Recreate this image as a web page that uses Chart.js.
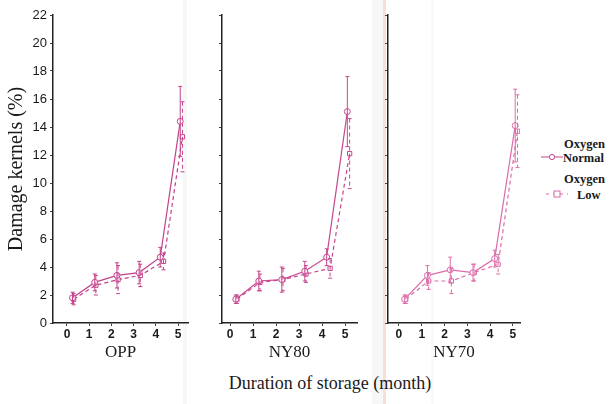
<!DOCTYPE html>
<html>
<head>
<meta charset="utf-8">
<script src="https://cdn.jsdelivr.net/npm/chart.js@4.4.0/dist/chart.umd.min.js"></script>
<style>
  body {
    margin: 0;
    width: 616px;
    height: 404px;
    position: relative;
    overflow: hidden;
    background:
      linear-gradient(to right,
        transparent 183px, rgba(0,0,0,0.03) 183px, rgba(0,0,0,0.03) 187px, transparent 187px,
        transparent 372px, rgba(0,0,0,0.03) 372px, rgba(0,0,0,0.03) 383px,
        rgba(235,165,140,0.35) 383px, rgba(235,165,140,0.35) 386px, transparent 386px,
        transparent 431px, rgba(0,0,0,0.025) 431px, rgba(0,0,0,0.025) 434px, transparent 434px),
      #fff;
  }
  canvas { position: absolute; top: 0; }
  #c1 { left: 0; }
  #c2 { left: 200px; }
  #c3 { left: 370px; }
  .lbl {
    position: absolute;
    font-family: "Liberation Serif", serif;
    color: #1a1a1a;
    white-space: nowrap;
  }
  #xtitle { left: 0; width: 660px; text-align: center; top: 373px; font-size: 18px; }
  .leg { font-size: 12.5px; font-weight: bold; line-height: 14px; }
</style>
</head>
<body>
<canvas id="c1" width="200" height="366"></canvas>
<canvas id="c2" width="170" height="366"></canvas>
<canvas id="c3" width="160" height="366"></canvas>

<div id="xtitle" class="lbl">Duration of storage (month)</div>

<div class="lbl leg" style="left:564px; top:137px;">Oxygen</div>
<svg style="position:absolute; left:540px; top:152px;" width="24" height="10">
  <line x1="1" y1="5" x2="23" y2="5" stroke="#c8458a" stroke-width="1"/>
  <circle cx="12" cy="5" r="2.6" fill="#fff" stroke="#c8458a" stroke-width="1"/>
</svg>
<div class="lbl leg" style="left:563px; top:151px;">Normal</div>
<div class="lbl leg" style="left:564px; top:172px;">Oxygen</div>
<svg style="position:absolute; left:545px; top:189px;" width="24" height="10">
  <line x1="1" y1="5" x2="23" y2="5" stroke="#d86aa6" stroke-width="1" stroke-dasharray="3,4"/>
  <rect x="9" y="2" width="6" height="6" fill="#fff" stroke="#d86aa6" stroke-width="1"/>
</svg>
<div class="lbl leg" style="left:577px; top:188px;">Low</div>

<script>
// ===== DATA =====
const panels = ["OPP", "NY80", "NY70"];
const monthTicks = [0, 1, 2, 3, 4, 5];
const damageTicks = [0, 2, 4, 6, 8, 10, 12, 14, 16, 18, 20, 22];

// sampling month of each point (the two series are drawn slightly apart)
const monthsNormal = [0.25, 1.25, 2.25, 3.25, 4.2, 5.1];
const monthsLow = [0.3, 1.3, 2.3, 3.3, 4.35, 5.2];

const oppNormal = [1.8, 2.9, 3.4, 3.6, 4.7, 14.4];
const oppNormalErr = [0.4, 0.6, 0.9, 0.8, 0.7, 2.5];
const oppLow = [1.7, 2.7, 3.1, 3.4, 4.4, 13.3];
const oppLowErr = [0.4, 0.7, 1.0, 0.8, 0.6, 2.5];

const ny80Normal = [1.7, 3.0, 3.1, 3.7, 4.7, 15.1];
const ny80NormalErr = [0.3, 0.7, 0.9, 0.7, 0.6, 2.5];
const ny80Low = [1.7, 2.9, 3.1, 3.5, 3.9, 12.1];
const ny80LowErr = [0.3, 0.6, 0.8, 0.6, 0.7, 2.5];

const ny70Normal = [1.7, 3.4, 3.8, 3.6, 4.6, 14.1];
const ny70NormalErr = [0.3, 0.7, 0.9, 0.6, 0.6, 2.6];
const ny70Low = [1.7, 3.0, 3.0, 3.6, 4.2, 13.7];
const ny70LowErr = [0.3, 0.6, 0.9, 0.6, 0.7, 2.6];

// ===== ERROR BAR PLUGIN =====
const errorBars = {
  id: "errorBars",
  afterDatasetsDraw(chart) {
    const ctx = chart.ctx;
    const yScale = chart.scales.y;
    chart.data.datasets.forEach((ds, di) => {
      const meta = chart.getDatasetMeta(di);
      ctx.save();
      ctx.strokeStyle = ds.borderColor;
      ctx.lineWidth = 1;
      ctx.setLineDash(ds.borderDash || []);
      meta.data.forEach((pt, i) => {
        const v = ds.data[i].y;
        const e = ds.errors[i];
        const yTop = yScale.getPixelForValue(v + e);
        const yBot = yScale.getPixelForValue(v - e);
        ctx.beginPath();
        ctx.moveTo(pt.x, yTop);
        ctx.lineTo(pt.x, yBot);
        ctx.moveTo(pt.x - 2, yTop);
        ctx.lineTo(pt.x + 2, yTop);
        ctx.moveTo(pt.x - 2, yBot);
        ctx.lineTo(pt.x + 2, yBot);
        ctx.stroke();
      });
      ctx.restore();
    });
  }
};

// ===== CHART BUILDER =====
function pairs(xs, ys) {
  return ys.map((y, i) => ({ x: xs[i], y: y }));
}

function makePanel(id, name, normal, normalErr, low, lowErr, opts) {
  const color = opts.color;
  const ctx = document.getElementById(id).getContext("2d");
  return new Chart(ctx, {
    type: "line",
    data: {
      datasets: [
        {
          label: "Oxygen Normal",
          data: pairs(monthsNormal, normal),
          errors: normalErr,
          borderColor: color,
          borderWidth: 1.2,
          pointStyle: "circle",
          pointRadius: 3,
          pointBackgroundColor: "rgba(255,255,255,0.9)",
          pointBorderColor: color,
          pointBorderWidth: 1,
          tension: 0
        },
        {
          label: "Oxygen Low",
          data: pairs(monthsLow, low),
          errors: lowErr,
          borderColor: color,
          borderWidth: 1.2,
          borderDash: [4, 3],
          pointStyle: "rect",
          pointRadius: 3,
          pointBackgroundColor: "rgba(255,255,255,0.9)",
          pointBorderColor: color,
          pointBorderWidth: 1,
          tension: 0
        }
      ]
    },
    options: {
      responsive: false,
      animation: false,
      layout: { padding: { top: 15, right: opts.padRight, left: 0, bottom: 0 } },
      plugins: { legend: { display: false }, tooltip: { enabled: false } },
      scales: {
        x: {
          type: "linear",
          min: opts.xMin,
          max: opts.xMax,
          afterBuildTicks: s => { s.ticks = monthTicks.map(v => ({ value: v })); },
          afterFit: s => { s.height = 366 - 323; },
          border: { color: "#222", width: 1.5 },
          grid: { drawOnChartArea: false, tickLength: 3, color: "#444" },
          ticks: {
            padding: 1,
            color: "#1a1a1a",
            font: { family: "Liberation Sans", size: 12, weight: "bold" },
            maxRotation: 0
          },
          title: {
            display: true,
            text: name,
            color: "#1a1a1a",
            padding: { top: 0, bottom: 3 },
            font: { family: "Liberation Serif", size: 17 }
          }
        },
        y: {
          min: 0,
          max: 22,
          afterBuildTicks: s => { s.ticks = damageTicks.map(v => ({ value: v })); },
          afterFit: s => { s.width = opts.yWidth; },
          border: { color: "#222", width: 1.5 },
          grid: { drawOnChartArea: false, tickLength: 3, color: "#444" },
          ticks: {
            display: opts.showY,
            padding: 3,
            color: "#1a1a1a",
            font: { family: "Liberation Sans", size: 13 }
          },
          title: {
            display: opts.showY,
            text: "Damage kernels (%)",
            color: "#1a1a1a",
            padding: { top: 5, bottom: 0 },
            font: { family: "Liberation Serif", size: 20 }
          }
        }
      }
    },
    plugins: [errorBars]
  });
}

// ===== PANELS =====
makePanel("c1", panels[0], oppNormal, oppNormalErr, oppLow, oppLowErr,
  { color: "#c4418a", xMin: -0.63, xMax: 5.45, yWidth: 53, padRight: 12, showY: true });
makePanel("c2", panels[1], ny80Normal, ny80NormalErr, ny80Low, ny80LowErr,
  { color: "#c8468e", xMin: -0.35, xMax: 5.52, yWidth: 22, padRight: 13, showY: false });
makePanel("c3", panels[2], ny70Normal, ny70NormalErr, ny70Low, ny70LowErr,
  { color: "#dc6ca9", xMin: -0.48, xMax: 5.31, yWidth: 18, padRight: 10, showY: false });
</script>
</body>
</html>
